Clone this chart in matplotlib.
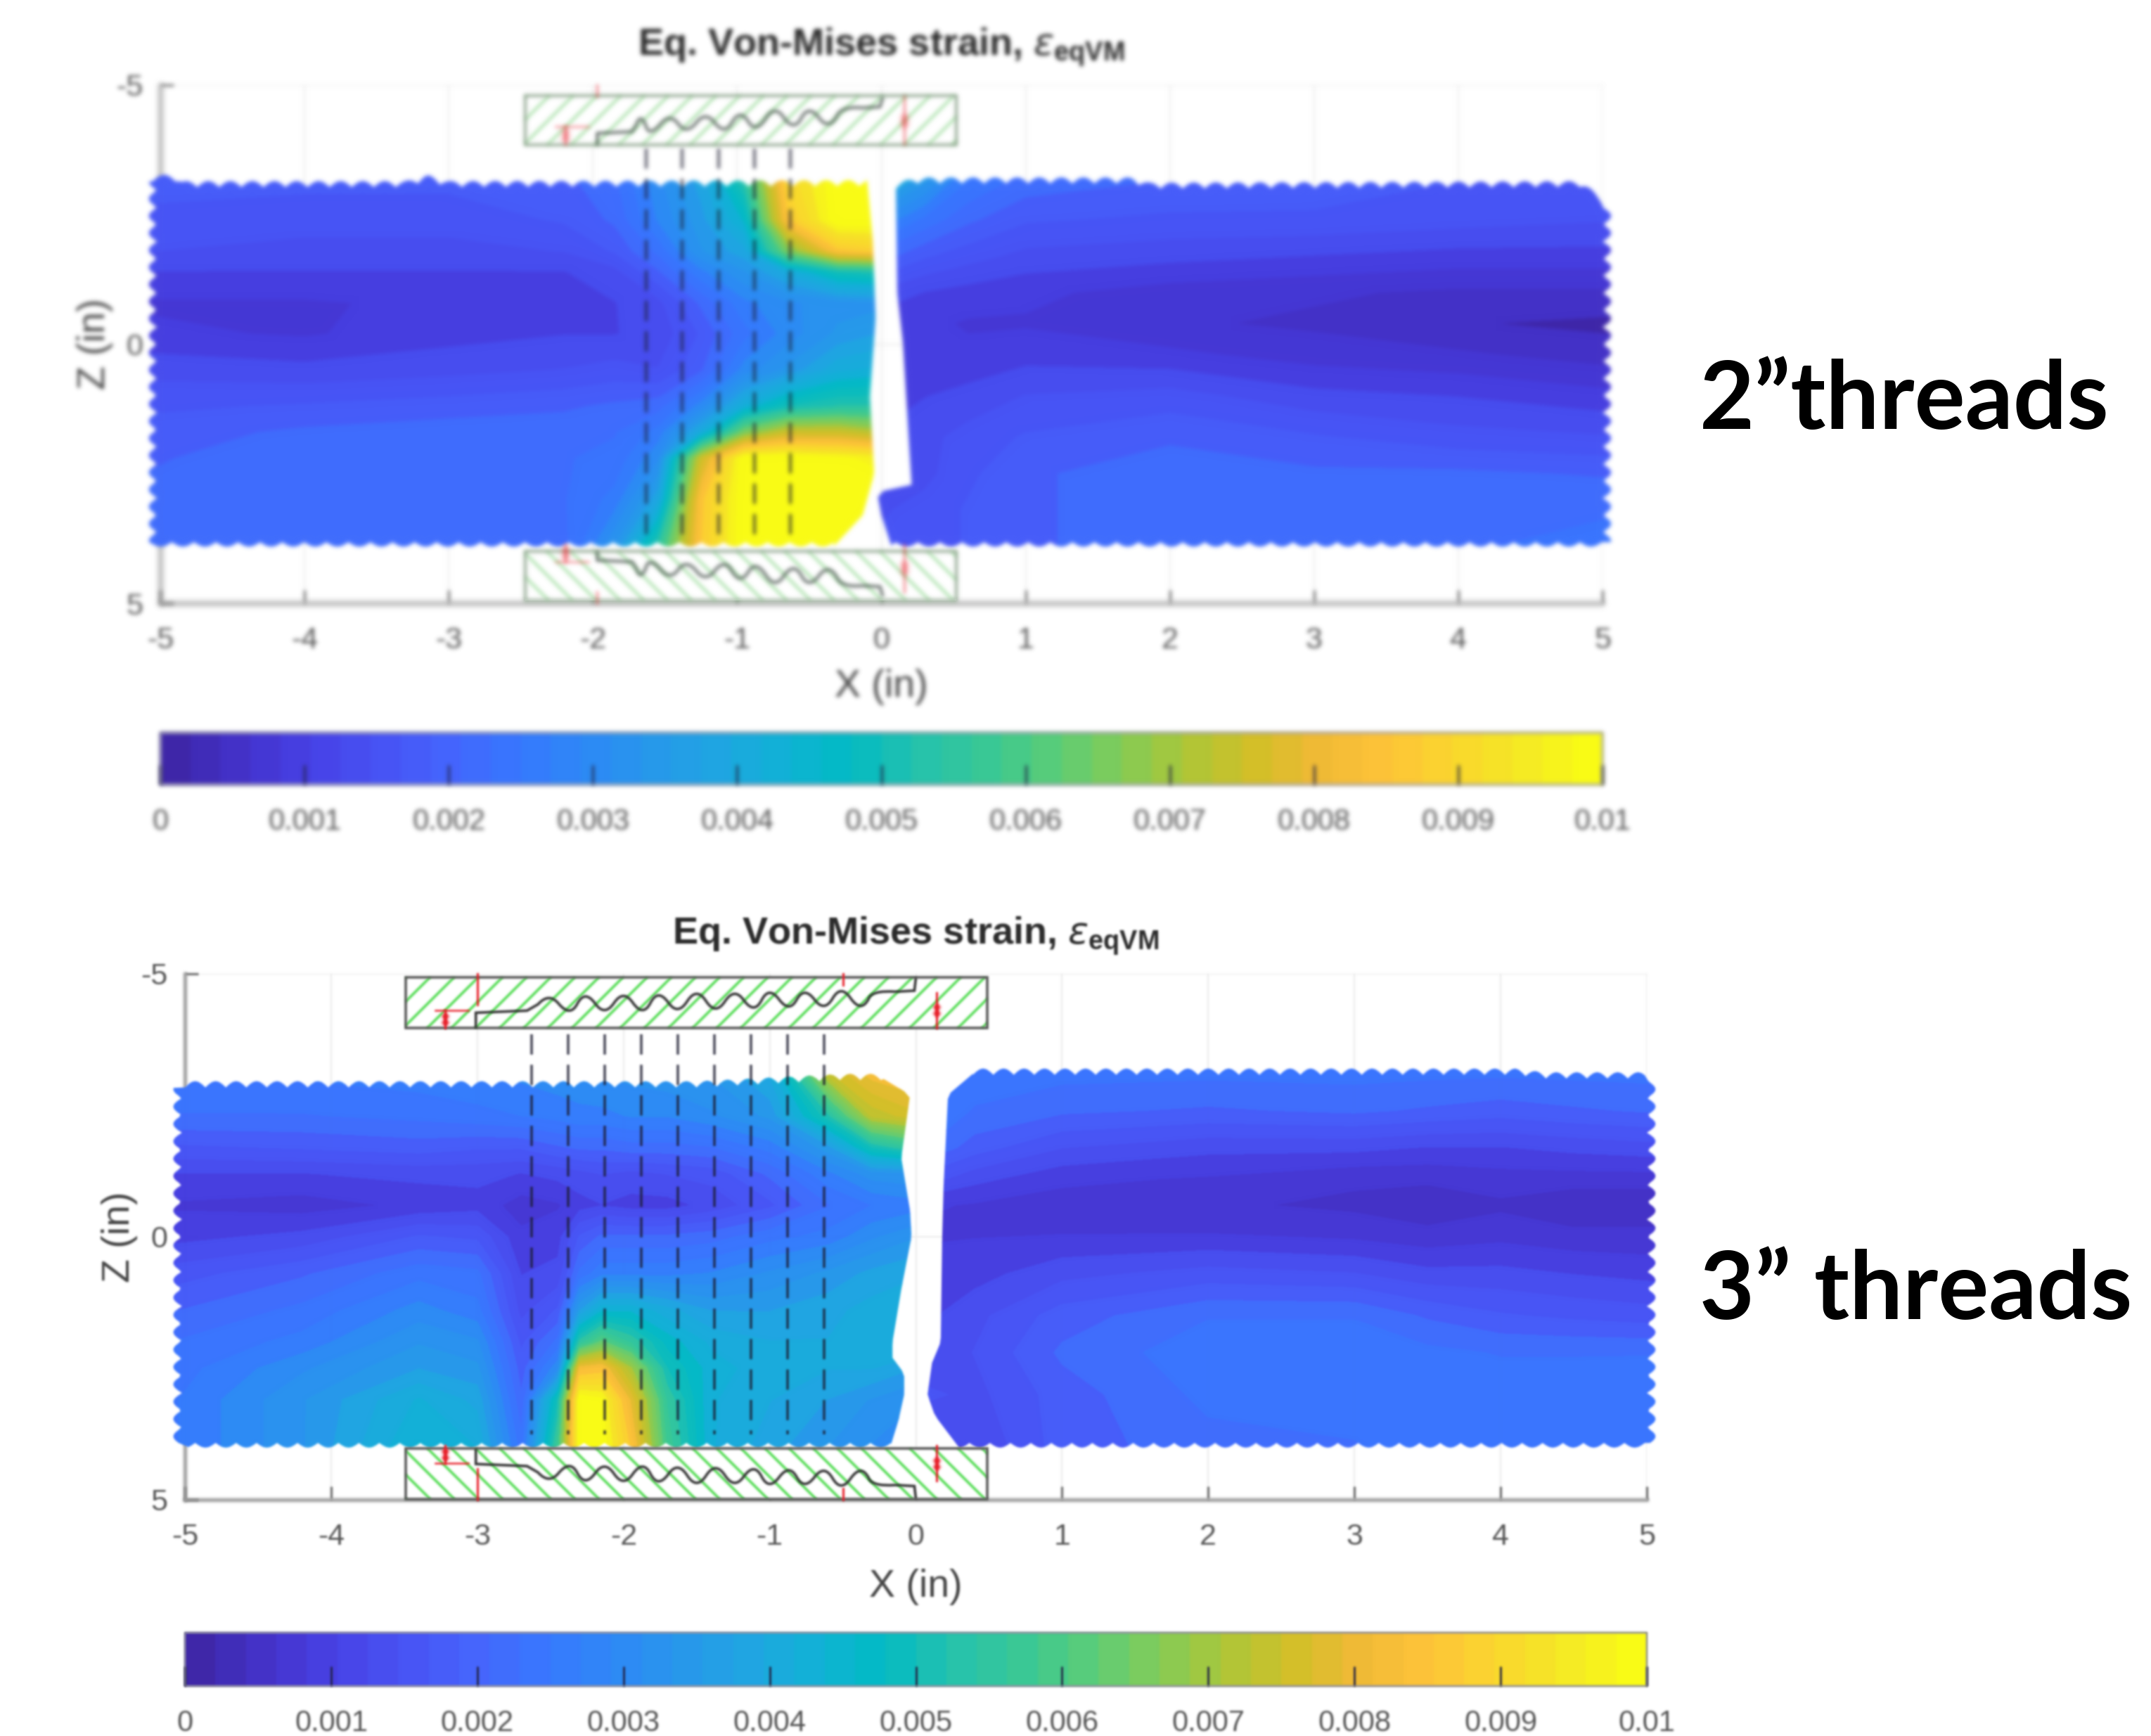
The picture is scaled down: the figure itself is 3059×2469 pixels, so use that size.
import numpy as np
import matplotlib
matplotlib.use('Agg')
import matplotlib.pyplot as plt
from matplotlib.colors import LinearSegmentedColormap, Normalize
from matplotlib.cm import ScalarMappable
from matplotlib.path import Path
from matplotlib.patches import Rectangle, PathPatch

plt.rcParams['font.family'] = ['Liberation Sans', 'DejaVu Sans']
plt.rcParams['mathtext.fontset'] = 'custom'
plt.rcParams['mathtext.rm'] = 'Liberation Sans'
plt.rcParams['mathtext.bf'] = 'Liberation Sans:bold'
plt.rcParams['axes.unicode_minus'] = False

W, H = 3059, 2469

# colour bar (parula like)
bar_colors = [
    (0.2422, 0.1504, 0.6603), (0.2647, 0.1978, 0.7952), (0.2783, 0.2559, 0.8991),
    (0.2810, 0.3228, 0.9579), (0.2699, 0.3892, 0.9906), (0.2206, 0.4603, 0.9973),
    (0.1786, 0.5289, 0.9682), (0.1540, 0.5902, 0.9218), (0.1248, 0.6459, 0.8883),
    (0.0689, 0.6948, 0.8394), (0.0067, 0.7312, 0.7660), (0.1408, 0.7584, 0.6842),
    (0.2161, 0.7843, 0.5923), (0.3406, 0.8008, 0.4789), (0.5044, 0.7993, 0.3480),
    (0.6720, 0.7793, 0.2227), (0.8203, 0.7498, 0.1535), (0.9393, 0.7288, 0.2100),
    (0.9970, 0.7659, 0.2199), (0.9786, 0.8386, 0.1766), (0.9597, 0.9135, 0.1423),
    (0.9769, 0.9839, 0.0805)]
cbar_ticks = [0, 0.001, 0.002, 0.003, 0.004, 0.005, 0.006, 0.007, 0.008, 0.009, 0.01]
cbar_labels = ['0', '0.001', '0.002', '0.003', '0.004', '0.005', '0.006', '0.007', '0.008', '0.009', '0.01']
x_ticks = [-5, -4, -3, -2, -1, 0, 1, 2, 3, 4, 5]
z_ticks = [-5, 0, 5]
title = r'Eq. Von-Mises strain, $\epsilon_{\mathbf{eqVM}}$'

# 2" threads, strain in 1e-3, left of the gap
a_lx = [-5.15, -4, -3, -2.2, -1.85, -1.55, -1.25, -0.95, -0.65, -0.3, 0.1]
a_lz = [-3.3, -2.4, -1.8, -1.4, -0.8, -0.2, 0.5, 1.2, 1.7, 2.2, 3.0, 4.0]
a_lv = [[1.8, 1.8, 1.8, 1.9, 2.2, 3.0, 3.8, 5.5, 9.0, 10, 10],
        [1.6, 1.5, 1.5, 1.7, 2.0, 2.8, 3.5, 4.5, 8.5, 10, 10],
        [1.4, 1.3, 1.3, 1.4, 1.7, 2.3, 3.3, 3.8, 6.5, 8.5, 8.8],
        [1.1, 1.1, 1.1, 1.1, 1.3, 1.9, 2.7, 3.3, 4.0, 5.0, 5.3],
        [0.8, 0.8, 0.9, 1.0, 1.1, 1.3, 2.0, 2.7, 3.0, 3.2, 3.3],
        [0.9, 0.8, 1.0, 1.1, 1.1, 1.2, 1.7, 2.4, 2.9, 3.4, 3.7],
        [1.3, 1.2, 1.3, 1.4, 1.5, 1.4, 1.9, 2.9, 3.4, 4.1, 4.3],
        [1.6, 1.7, 1.8, 1.9, 2.0, 2.1, 2.9, 4.2, 5.0, 5.3, 5.3],
        [1.8, 2.0, 2.1, 2.1, 2.2, 2.6, 4.0, 6.5, 7.5, 7.5, 7.0],
        [1.9, 2.1, 2.2, 2.2, 2.3, 3.0, 7.5, 10, 10, 9.8, 9.5],
        [2.0, 2.1, 2.1, 2.2, 2.6, 3.8, 8.5, 10, 10, 10, 10],
        [2.0, 2.0, 2.0, 2.1, 3.4, 5.5, 8.6, 10, 10, 10, 10]]
# 2" threads, right of the gap
a_rx = [-0.1, 0.3, 0.6, 1, 2, 3, 4, 5.15]
a_rz = [-3.3, -2.4, -1.7, -1.0, -0.4, 0.2, 1.0, 1.8, 2.5, 3.2, 4.0]
a_rv = [[5.0, 3.6, 2.6, 2.2, 2.0, 1.9, 1.7, 1.7],
        [3.2, 2.4, 2.0, 1.7, 1.6, 1.6, 1.5, 1.4],
        [2.2, 1.7, 1.5, 1.3, 1.2, 1.1, 1.0, 1.0],
        [1.4, 1.1, 1.0, 0.9, 0.7, 0.6, 0.5, 0.5],
        [1.0, 0.9, 0.8, 0.8, 0.6, 0.5, 0.3, 0.2],
        [0.9, 0.9, 0.9, 1.0, 0.9, 0.7, 0.6, 0.4],
        [1.0, 1.1, 1.2, 1.4, 1.5, 1.2, 1.1, 0.9],
        [1.1, 1.3, 1.5, 1.7, 1.9, 1.7, 1.5, 1.4],
        [1.1, 1.3, 1.6, 1.9, 2.1, 2.0, 2.0, 1.9],
        [1.3, 1.5, 1.7, 1.9, 2.1, 2.0, 2.1, 2.2],
        [1.4, 1.5, 1.7, 1.9, 2.1, 2.1, 2.2, 2.4]]

# 3" threads, left of the gap
b_lx = [-5.15, -4.2, -3.4, -3.0, -2.7, -2.45, -2.3, -2.15, -1.95, -1.7, -1.4, -1.0, -0.6, -0.3, 0.1]
b_lz = [-3.2, -2.3, -1.7, -1.2, -0.6, 0, 0.7, 1.4, 2.0, 2.5, 3.1, 4.1]
b_lv = [[2.5, 2.6, 2.7, 2.8, 2.9, 3.0, 3.0, 3.1, 3.2, 3.3, 3.4, 4.0, 7.6, 8.3, 8.5],
        [2.2, 2.2, 2.3, 2.4, 2.5, 2.6, 2.7, 2.7, 2.8, 2.8, 3.0, 3.4, 5.2, 7.3, 7.8],
        [1.6, 1.7, 1.8, 1.7, 1.7, 1.9, 2.0, 2.0, 2.1, 2.1, 2.2, 2.6, 3.5, 5.0, 5.8],
        [1.1, 1.1, 1.2, 1.2, 1.1, 1.2, 1.3, 1.4, 1.3, 1.4, 1.5, 2.0, 2.7, 3.2, 3.3],
        [0.8, 0.7, 0.9, 1.0, 0.7, 0.8, 1.0, 1.1, 1.0, 1.0, 1.2, 1.6, 2.2, 2.5, 2.7],
        [1.0, 1.2, 1.7, 1.6, 0.9, 1.0, 1.7, 2.0, 2.0, 2.0, 2.1, 2.4, 2.6, 3.0, 3.4],
        [1.5, 1.9, 2.4, 2.3, 1.1, 1.2, 2.3, 2.7, 2.7, 2.7, 2.8, 3.1, 3.4, 3.7, 3.9],
        [1.9, 2.3, 2.9, 2.6, 1.3, 1.7, 3.6, 4.4, 4.4, 4.0, 3.6, 3.6, 3.8, 4.0, 4.2],
        [2.2, 2.6, 3.3, 3.1, 1.6, 2.3, 5.4, 6.2, 5.5, 4.6, 4.1, 3.9, 3.9, 4.0, 4.1],
        [2.3, 3.0, 3.6, 3.4, 1.8, 3.0, 8.2, 8.4, 7.0, 5.0, 4.3, 4.0, 3.9, 3.9, 3.5],
        [2.4, 3.3, 4.2, 3.8, 2.0, 5.0, 10, 9.8, 8.0, 5.5, 4.2, 3.9, 3.6, 3.3, 3.0],
        [2.4, 3.3, 4.5, 4.2, 2.4, 5.8, 10, 10, 8.6, 5.8, 4.2, 3.7, 3.3, 3.0, 2.7]]
# 3" threads, right of the gap
b_rx = [0, 0.4, 1, 2, 3, 3.5, 4, 4.5, 5.15]
b_rz = [-3.3, -2.4, -1.7, -1.1, -0.6, -0.1, 0.7, 1.5, 2.2, 3.0, 4.1]
b_rv = [[2.6, 2.4, 2.4, 2.4, 2.4, 2.4, 2.4, 2.4, 2.4],
        [2.5, 2.2, 2.0, 1.9, 2.0, 1.9, 1.8, 1.9, 2.0],
        [2.3, 1.8, 1.4, 1.2, 1.2, 1.1, 1.1, 1.2, 1.3],
        [1.6, 1.2, 0.9, 0.8, 0.6, 0.6, 0.7, 0.7, 0.7],
        [0.9, 0.8, 0.7, 0.6, 0.5, 0.4, 0.5, 0.3, 0.3],
        [0.8, 0.8, 0.8, 0.8, 0.7, 0.6, 0.7, 0.6, 0.6],
        [0.9, 1.0, 1.3, 1.5, 1.4, 1.2, 1.2, 1.1, 1.0],
        [1.0, 1.3, 1.8, 2.2, 2.2, 1.9, 1.7, 1.6, 1.5],
        [1.1, 1.4, 2.0, 2.4, 2.4, 2.3, 2.2, 2.2, 2.2],
        [1.5, 1.3, 1.8, 2.3, 2.3, 2.3, 2.4, 2.4, 2.5],
        [0.9, 1.1, 1.8, 2.1, 2.2, 2.3, 2.4, 2.5, 2.5]]

# specimen outlines: top edge, gap edges
a_l_top = ([-5.05, -4.9, -4.85, -3.3, -3.15, -3.0, -0.1], [-3.15, -3.15, -3.03, -3.03, -3.15, -3.03, -3.05])
a_l_gap = ([-3.2, -2, -0.5, 1, 2.5, 3.3, 3.9], [-0.10, -0.06, -0.04, -0.08, -0.05, -0.13, -0.33])
a_r_top = ([0.1, 0.25, 1.75, 1.85, 4.85, 5.02], [-3.0, -3.1, -3.1, -3.0, -3.03, -2.65])
a_r_gap = ([-3.1, -1, 0, 2.75, 2.85, 3.3, 3.9], [0.10, 0.11, 0.15, 0.21, -0.03, 0.0, 0.07])
b_l_top = ([-5, -1.5, -0.5, -0.22], [-2.84, -2.84, -2.98, -2.98])
b_l_gap = ([-3.0, -2.7, -1.5, -0.5, 0, 1, 2, 2.3, 2.6, 3, 3.5, 3.95],
           [-0.22, -0.04, -0.10, -0.04, -0.03, -0.10, -0.16, -0.16, -0.08, -0.08, -0.12, -0.17])
b_r_top = ([0.39, 4.1, 4.3, 5], [-3.08, -3.08, -3.01, -3.01])
b_r_gap = ([-3.1, -2.7, -1, 0, 2, 2.4, 3, 3.4, 3.95],
           [0.39, 0.22, 0.19, 0.18, 0.17, 0.11, 0.08, 0.13, 0.28])

# thread profiles of the top grip
a_thread_x = [-1.97, -1.97, -1.73, -1.67, -1.60, -1.47, -1.35, -1.22, -1.09, -0.98, -0.87, -0.74, -0.61, -0.50, -0.37, -0.25, -0.01, 0.01]
a_thread_z = [-3.84, -4.07, -4.10, -4.35, -4.11, -4.36, -4.15, -4.39, -4.15, -4.42, -4.19, -4.50, -4.23, -4.50, -4.25, -4.54, -4.58, -4.77]
b_thread_x = [-3.01, -3.01, -2.66, -2.51, -2.37, -2.26, -2.13, -2.00, -1.87, -1.76, -1.63, -1.50, -1.37, -1.24, -1.11, -1.00, -0.87, -0.76, -0.63, -0.51, -0.38, -0.27, -0.01, 0.0]
b_thread_z = [-3.97, -4.26, -4.30, -4.54, -4.30, -4.57, -4.31, -4.58, -4.31, -4.59, -4.33, -4.62, -4.34, -4.62, -4.36, -4.64, -4.38, -4.64, -4.39, -4.67, -4.39, -4.64, -4.68, -4.93]

# dashed thread positions
a_dash_x = [-1.63, -1.38, -1.13, -0.88, -0.63]
b_dash_x = [-2.63, -2.38, -2.13, -1.88, -1.63, -1.38, -1.13, -0.88, -0.63]

# red dimension lines (x, z from, z to), top grip
a_red = [(-1.97, -5.0, -4.78), (0.16, -4.78, -3.86), (-2.19, -4.2, -3.86)]
b_red = [(-3.0, -5.0, -4.41), (-0.5, -5.0, -4.78), (0.14, -4.64, -3.97), (-3.22, -4.3, -3.97)]

cmap = LinearSegmentedColormap.from_list('bar', bar_colors, N=48)


def blur(sigma):
    # gaussian blur for agg_filter
    r = int(3 * sigma) + 1
    k = np.exp(-0.5 * (np.arange(-r, r + 1) / sigma) ** 2)
    k = k / k.sum()

    def f(img, dpi):
        im = np.pad(img, ((r, r), (r, r), (0, 0)))
        a = im[..., 3:4]
        pm = np.concatenate([im[..., :3] * a, a], axis=2)
        pm = np.apply_along_axis(lambda v: np.convolve(v, k, 'same'), 0, pm)
        pm = np.apply_along_axis(lambda v: np.convolve(v, k, 'same'), 1, pm)
        out = np.clip(pm, 0, 1)
        al = np.maximum(out[..., 3:4], 1e-4)
        out[..., :3] = np.clip(out[..., :3] / al, 0, 1)
        return out, -r, -r
    return f


def outline(top, gap, bot_z, side, pitch=0.153):
    # closed outline of one half of the specimen, with the bumps of the dots
    t = np.arange(top[0][0], top[0][-1], pitch / 6)
    zt = np.interp(t, top[0], top[1]) - 0.12 * np.abs(np.sin(np.pi * (t - t[0]) / pitch))
    zg = np.linspace(gap[0][0], gap[0][-1], 60)
    xg = np.interp(zg, gap[0], gap[1])
    if side < 0:
        b = np.arange(xg[-1], t[0], -pitch / 6)
        zs = np.arange(bot_z, top[1][0], -0.05)
    else:
        b = np.arange(t[-1], xg[-1], -pitch / 6)
        zs = np.arange(bot_z, top[1][-1], -0.05)
    zb = bot_z + 0.09 * np.abs(np.sin(np.pi * (b - b[0]) / pitch))
    xs = side + np.sign(side) * 0.06 * np.abs(np.sin(np.pi * zs / 0.33))
    if side < 0:
        xx = np.r_[t, xg, b, xs]
        zz = np.r_[zt, zg, zb, zs]
    else:
        xx = np.r_[xg[::-1], t, xs[::-1], b]
        zz = np.r_[zg[::-1], zt, zs[::-1], zb]
    return Path(np.c_[xx, zz], closed=False)


def thread_path(x, z, n_head=3, n_tail=2):
    # step, then rounded crests through the listed points, then step
    p = np.c_[x, z]
    verts = list(p[:n_head])
    codes = [Path.MOVETO] + [Path.LINETO] * (n_head - 1)
    for i in range(n_head, len(p) - n_tail):
        m1 = (p[i - 1] + p[i]) / 2
        m2 = (p[i] + p[i + 1]) / 2
        verts += [m1, 2 * p[i] - (m1 + m2) / 2, m2]
        codes += [Path.LINETO, Path.CURVE3, Path.CURVE3]
    verts += list(p[-n_tail:])
    codes += [Path.LINETO] * n_tail
    return Path(np.array(verts), codes)


def field(ax, x, z, v, path, norm, flt):
    cs = ax.contourf(x, z, np.array(v) * 1e-3, levels=np.linspace(0, 0.01, 37), cmap=cmap, norm=norm,
                     extend='both', antialiased=False, zorder=2.7)
    cs.set_clip_box(None)
    cs.set_clip_path(path, transform=ax.transData)
    cs.set_agg_filter(flt)


def grip(ax, x0, x1, z0, z1, slope, thread_x, thread_z, flt, hatch_color, edge_color, line_color):
    rect = Rectangle((x0, z0), x1 - x0, z1 - z0, fc='white', ec='none', zorder=4, clip_on=False)
    ax.add_patch(rect)
    dx = (z1 - z0) * 74.5 / 206
    for c in np.arange(x0 - dx, x1 + dx, 0.165):
        l, = ax.plot([c, c + dx], [z1, z0] if slope > 0 else [z0, z1], color=hatch_color, lw=2.6, zorder=5)
        l.set_clip_path(rect)
        l.set_agg_filter(flt)
    e = Rectangle((x0, z0), x1 - x0, z1 - z0, fc='none', ec=edge_color, lw=2.6, zorder=6, clip_on=False)
    ax.add_patch(e)
    e.set_agg_filter(flt)
    th = PathPatch(thread_path(thread_x, np.clip(thread_z, z0, z1)), fc='none', ec=line_color, lw=2.6, zorder=7)
    ax.add_patch(th)
    th.set_agg_filter(flt)


def red_marks(ax, marks, sign, flt, alpha):
    for x, z0, z1 in marks:
        l, = ax.plot([x, x], [sign * z0, sign * z1], color='#e8202a', lw=2.2, alpha=alpha, zorder=8, clip_on=False)
        l.set_agg_filter(flt)
    for x, z0, z1 in marks[-2:]:
        zm = (z0 + z1) / 2
        s = ax.scatter([x, x], [sign * (zm - 0.06), sign * (zm + 0.06)], marker='D', s=35, color='#e8202a', alpha=alpha,
                       zorder=8, linewidths=0)
        s.set_agg_filter(flt)
    x, z0, z1 = marks[-1]
    l, = ax.plot([x - 0.07, x + 0.16], [sign * z0, sign * z0], color='#e8202a', lw=1.8, alpha=alpha, zorder=8)
    l.set_agg_filter(flt)


fig = plt.figure(figsize=(W / 100, H / 100), dpi=100)


def px_axes(l, t, r, b):
    return fig.add_axes([l / W, 1 - b / H, (r - l) / W, (b - t) / H])


def panel(box, cbox, left, right, dash_x, dash_z, grip_x, top_z, bot_z, thread, thread_off, reds, sigma,
          hatch_color, edge_color, line_color, alpha, xpad):
    flt = blur(sigma)
    norm = Normalize(0, 0.01)
    ax = px_axes(*box)
    ax.set_xlim(-5, 5)
    ax.set_ylim(5, -5)
    ax.set_xticks(x_ticks)
    ax.set_yticks(z_ticks)
    ax.grid(True, color='#ececec', lw=1.5)
    ax.set_axisbelow(True)
    ax.tick_params(direction='in', length=14, width=2.5, color='#777777', labelcolor='#555555', labelsize=31, pad=24)
    ax.tick_params(axis='y', pad=18)
    ax.set_xlabel('X (in)', fontsize=40, color='#444444', labelpad=xpad)
    ax.set_ylabel('Z (in)', fontsize=40, color='#444444', labelpad=3)
    for s in ['top', 'right']:
        ax.spines[s].set_visible(False)
    for s in ['left', 'bottom']:
        ax.spines[s].set_color('#999999')
        ax.spines[s].set_linewidth(3.5)
        ax.spines[s].set_agg_filter(flt)
    ax.xaxis.set_agg_filter(flt)
    ax.yaxis.set_agg_filter(flt)
    t = ax.set_title(title, fontsize=39, fontweight='bold', color='#2a2a2a', pad=30)
    t.set_agg_filter(flt)

    field(ax, *left, norm, flt)
    field(ax, *right, norm, flt)
    for x in dash_x:
        l, = ax.plot([x, x], dash_z, color='#1c1c30', lw=2.6, alpha=0.8, dashes=(8, 4), zorder=3)
        l.set_agg_filter(flt)
    grip(ax, grip_x[0], grip_x[1], top_z[0], top_z[1], 1, thread[0], np.array(thread[1]), flt, hatch_color, edge_color, line_color)
    grip(ax, grip_x[0], grip_x[1], bot_z[0], bot_z[1], -1, thread[0], thread_off - np.array(thread[1]), flt, hatch_color, edge_color, line_color)
    red_marks(ax, reds, 1, flt, alpha)
    red_marks(ax, reds, -1, flt, alpha)

    cax = px_axes(*cbox)
    cb = fig.colorbar(ScalarMappable(norm, cmap), cax=cax, orientation='horizontal', ticks=cbar_ticks)
    cb.set_ticklabels(cbar_labels)
    cax.tick_params(direction='in', length=20, width=2, color='#222244', labelcolor='#555555', labelsize=30, pad=24)
    cb.outline.set_edgecolor('#777788')
    cb.outline.set_linewidth(1.5)
    cb.outline.set_agg_filter(flt)
    cb.solids.set_agg_filter(blur(sigma))
    cax.xaxis.set_agg_filter(flt)


panel((228, 121, 2279, 858), (228, 1042, 2279, 1116),
      (a_lx, a_lz, a_lv, outline(a_l_top, a_l_gap, 3.82, -5.02)),
      (a_rx, a_rz, a_rv, outline(a_r_top, a_r_gap, 3.82, 5.0)),
      a_dash_x, [-3.78, 3.86], (-2.47, 0.52), (-4.79, -3.84), (3.99, 4.95), (a_thread_x, a_thread_z), 0.1, a_red,
      3.0, '#a6e0a6', '#88a088', '#55605a', 0.55, 14)
panel((263, 1385, 2342, 2133), (263, 2322, 2342, 2398),
      (b_lx, b_lz, b_lv, outline(b_l_top, b_l_gap, 3.92, -5.02, 0.14)),
      (b_rx, b_rz, b_rv, outline(b_r_top, b_r_gap, 3.92, 5.0, 0.14)),
      b_dash_x, [-3.85, 3.75], (-3.49, 0.49), (-4.93, -3.97), (4.03, 4.98), (b_thread_x, b_thread_z), 0.06, b_red,
      1.5, '#55dd55', '#555555', '#333333', 1.0, 18)

fig.text(2417 / W, 1 - 610 / H, '2\u201dthreads', fontsize=97, fontweight='bold', family=['Lato', 'DejaVu Sans'], color='black')
fig.text(2417 / W, 1 - 1876 / H, '3\u201d threads', fontsize=97, fontweight='bold', family=['Lato', 'DejaVu Sans'], color='black')

plt.savefig('out.png', dpi=100)
